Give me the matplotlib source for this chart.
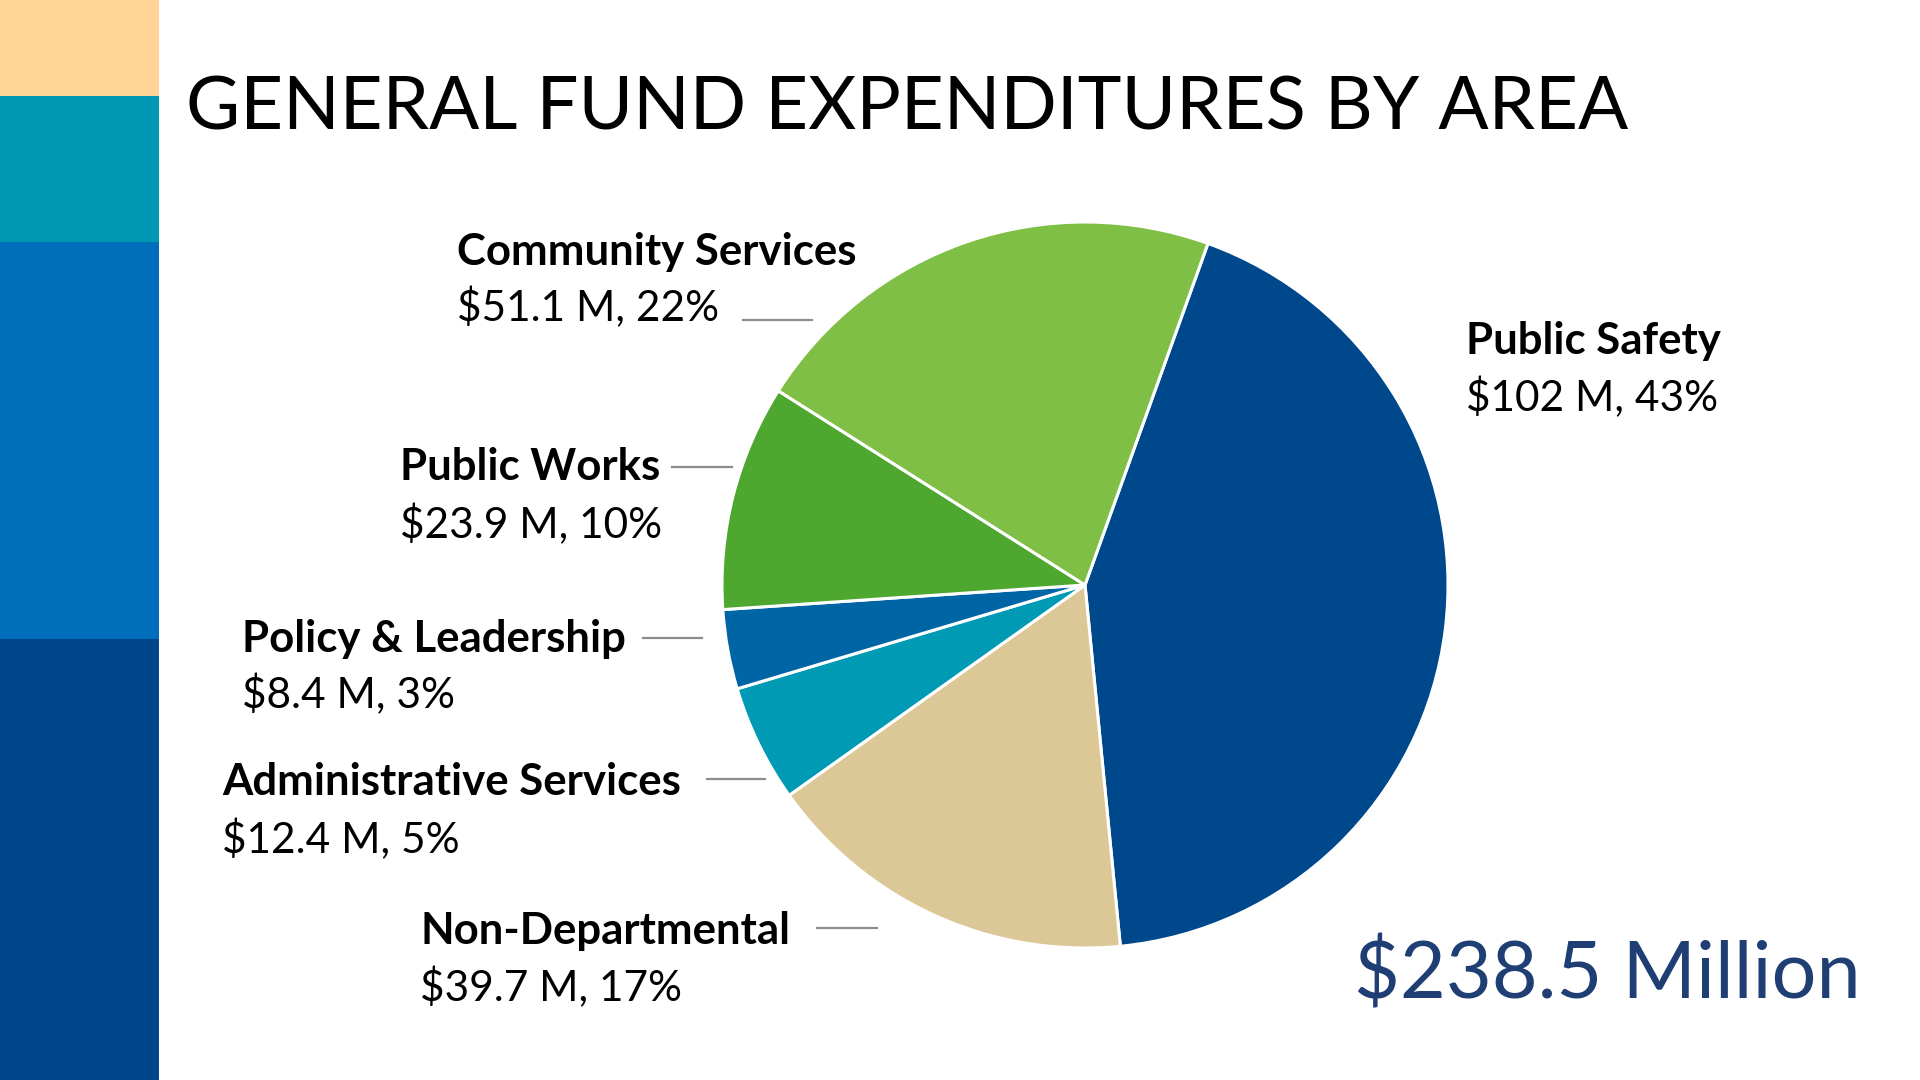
import matplotlib
matplotlib.use("Agg")
import matplotlib.pyplot as plt
from matplotlib.patches import Rectangle

# data, in clockwise order starting from Public Safety
areas = ["Public Safety", "Non-Departmental", "Administrative Services",
         "Policy & Leadership", "Public Works", "Community Services"]
amounts = [102, 39.7, 12.4, 8.4, 23.9, 51.1]
percents = [43, 17, 5, 3, 10, 22]
total_label = "$238.5 Million"
title = "GENERAL FUND EXPENDITURES BY AREA"

colors = ["#00488C", "#DCC797", "#009AB4", "#0065A4", "#4EA72E", "#7FBF46"]

# label layout in pixels (x, name line y, value line y, leader line or None)
label_pos = {
    "Public Safety": (1466, 341, 398, None),
    "Non-Departmental": (420, 931, 988, (817, 877, 928)),
    "Administrative Services": (222, 782, 840, (707, 765, 779)),
    "Policy & Leadership": (242, 639, 695, (643, 702, 638)),
    "Public Works": (400, 467, 525, (672, 732, 467)),
    "Community Services": (457, 252, 308, (743, 812, 320)),
}

W, H = 1920, 1080
plt.rcParams["font.family"] = ["Lato", "DejaVu Sans"]

fig = plt.figure(figsize=(19.2, 10.8), dpi=100)
ax = fig.add_axes([0, 0, 1, 1])


def py(y):
    # pixel row from the top -> data y
    return H - y


# side colour strip
strip = [(0, 96, "#FFD494"), (96, 242, "#0097B2"), (242, 639, "#006EBA"), (639, 1080, "#00468B")]
for top, bot, c in strip:
    ax.add_patch(Rectangle((0, py(bot)), 159, bot - top, color=c, lw=0))

ax.pie(amounts, colors=colors, startangle=70.2, counterclock=False,
       center=(1085, py(585)), radius=363,
       wedgeprops=dict(edgecolor="white", linewidth=2.2))

ax.set_xlim(0, W)
ax.set_ylim(0, H)
ax.set_aspect("equal")
ax.axis("off")

ax.text(186, py(109), title, fontsize=53.5, color="black", va="center", ha="left")

for name, amt, pct in zip(areas, amounts, percents):
    x, y1, y2, lead = label_pos[name]
    ax.text(x, py(y1), name, fontsize=31.5, fontweight="bold", va="center", ha="left",
            parse_math=False)
    ax.text(x, py(y2), f"${amt:g} M, {pct}%", fontsize=30.5, va="center", ha="left",
            parse_math=False)
    if lead:
        ax.plot([lead[0], lead[1]], [py(lead[2]), py(lead[2])], color="#8C8C8C", lw=1.6)

ax.text(1861, py(975), total_label, fontsize=57, color="#1F3F74", va="center", ha="right",
        parse_math=False)

fig.savefig("out.png", dpi=100)
